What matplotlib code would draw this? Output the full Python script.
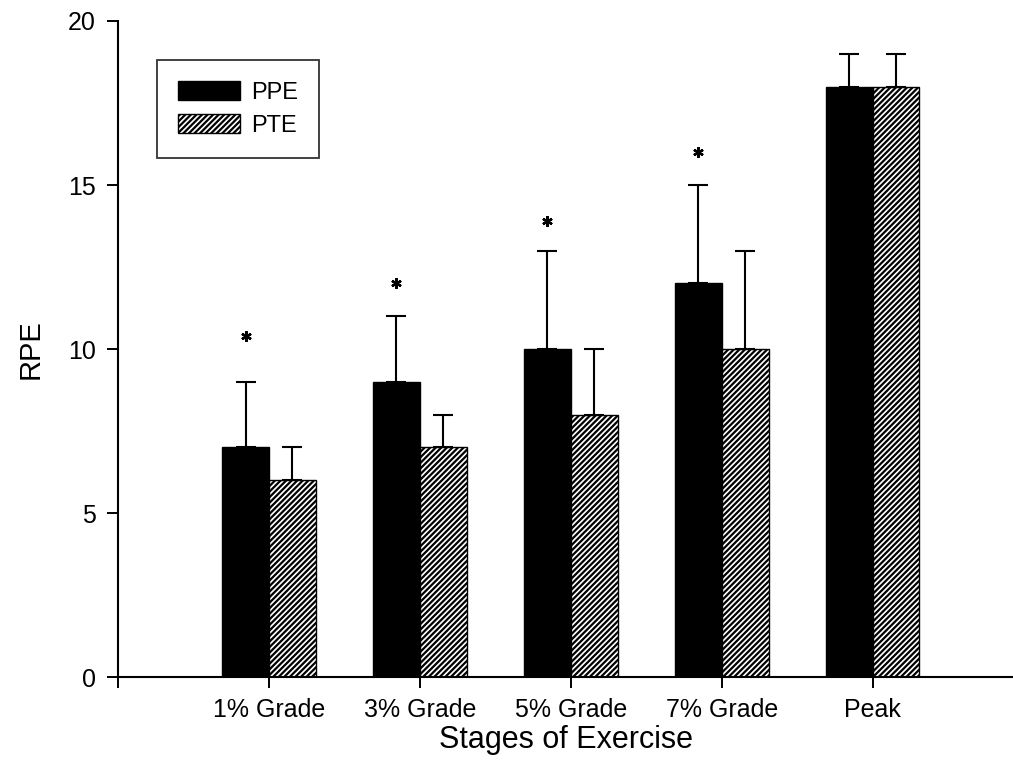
import matplotlib
matplotlib.use("Agg")
import matplotlib.pyplot as plt
import numpy as np

plt.rcParams['font.family'] = ['Liberation Sans', 'DejaVu Sans']
plt.rcParams['hatch.color'] = '#404040'
plt.rcParams['hatch.linewidth'] = 1.6

categories = ["1% Grade", "3% Grade", "5% Grade", "7% Grade", "Peak"]
ppe = [7, 9, 10, 12, 18]
ppe_err = [2, 2, 3, 3, 1]
pte = [6, 7, 8, 10, 18]
pte_err = [1, 1, 2, 3, 1]
asterisk_y = [10.4, 12.0, 13.9, 16.0, None]
y_ticks = [0, 5, 10, 15, 20]

fig = plt.figure(figsize=(10.13, 7.69), dpi=100)
ax = fig.add_axes([0.1165, 0.1196, 0.8835, 0.8531])

x = np.arange(1, len(categories) + 1)
w = 0.31

ax.bar(x - w / 2, ppe, w, color='black', edgecolor='black', linewidth=1, label='PPE')
ax.bar(x + w / 2, pte, w, color='white', edgecolor='black', linewidth=1,
       hatch='//////', label='PTE')
ax.errorbar(x - w / 2, ppe, yerr=[np.zeros(len(ppe)), ppe_err], fmt='none',
            ecolor='black', elinewidth=1.5, capsize=7.5, capthick=1.5)
ax.errorbar(x + w / 2, pte, yerr=[np.zeros(len(pte)), pte_err], fmt='none',
            ecolor='black', elinewidth=1.5, capsize=7.5, capthick=1.5)

sx = [xi - w / 2 for xi, a in zip(x, asterisk_y) if a is not None]
sy = [a for a in asterisk_y if a is not None]
ax.plot(sx, sy, linestyle='none', marker=(6, 2, 0), markersize=7.5,
        markeredgewidth=1.7, color='black')

ax.set_xlim(0, 5.93)
ax.set_ylim(0, 20)
ax.set_xticks([0] + list(x))
ax.set_xticklabels([''] + categories, fontsize=18)
ax.set_yticks(y_ticks)
ax.set_yticklabels([str(t) for t in y_ticks], fontsize=18)
ax.tick_params(axis='y', direction='out', length=8, width=1.4, pad=8)
ax.tick_params(axis='x', direction='out', length=8, width=1.4, pad=7)
for sp in ['top', 'right']:
    ax.spines[sp].set_visible(False)
for sp in ['left', 'bottom']:
    ax.spines[sp].set_linewidth(1.5)

ax.set_xlabel('Stages of Exercise', fontsize=22, labelpad=2)
ax.set_ylabel('RPE', fontsize=21, labelpad=17)

leg = ax.legend(loc='upper left', bbox_to_anchor=(0.0436, 0.9405), borderaxespad=0,
                fontsize=17, frameon=True, fancybox=False, edgecolor='black',
                handlelength=2.6, handleheight=0.85, handletextpad=0.47,
                borderpad=0.9, labelspacing=0.45)
leg.get_frame().set_linewidth(1.3)

fig.savefig('out.png', dpi=100)
